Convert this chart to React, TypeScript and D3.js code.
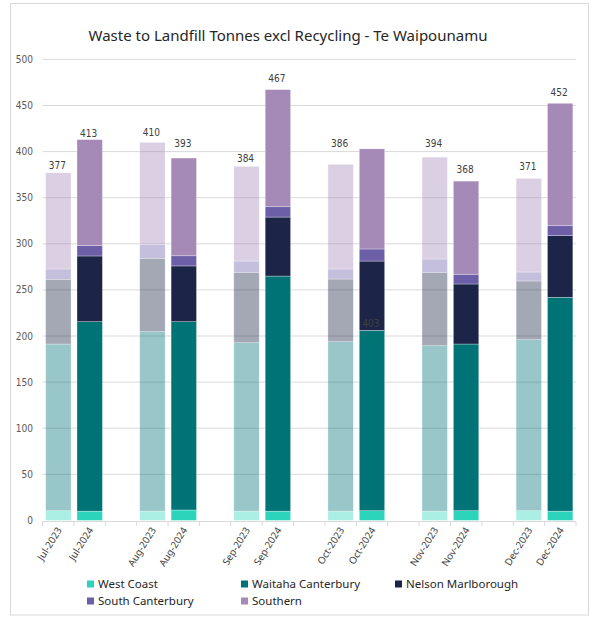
import React from "react";
import * as d3 from "d3";

// ---- data ----
const months = ["Jul", "Aug", "Sep", "Oct", "Nov", "Dec"];
const years = ["2023", "2024"];
const seriesNames = ["West Coast", "Waitaha Canterbury", "Nelson Marlborough", "South Canterbury", "Southern"];
const seriesColors = ["#2dd4bc", "#007377", "#1c2547", "#6c5fa8", "#a58ab8"];

const westCoast2023 = [10.5, 10, 10, 10, 10, 10.5];
const westCoast2024 = [10, 11.3, 10, 10.5, 10.5, 10];
const waitaha2023 = [180.8, 194.7, 182.7, 183.8, 179.5, 185.5];
const waitaha2024 = [205.5, 204.2, 255, 195.7, 180.8, 232];
const nelson2023 = [70.2, 79.6, 76, 68, 79.5, 63.7];
const nelson2024 = [71.3, 60.5, 64, 75.1, 65.1, 66.8];
const southCant2023 = [11.2, 14.7, 12.6, 10.9, 14.5, 9.7];
const southCant2024 = [11.2, 11, 11.2, 13.1, 10.6, 10.8];
const southern2023 = [104.3, 111, 102.7, 113.5, 110.5, 101.6];
const southern2024 = [115, 106, 127, 108.6, 101, 132.8];

const totals2023 = [377, 410, 384, 386, 394, 371];
const totals2024 = [413, 393, 467, 403, 368, 452];
// value (in tonnes-axis units) at which each total label sits
const labelAt2023 = [385.4, 421, 393, 409, 409, 384];
const labelAt2024 = [420, 409, 479, 214, 381, 464];

const yTicks = [0, 50, 100, 150, 200, 250, 300, 350, 400, 450, 500];

export default function App() {
  const W = 590, H = 621;
  const x0 = 42.5, x1 = 576;
  const yBottom = 520.4, yTop = 59.4;

  // build category domain with gaps between month groups
  const domain: string[] = [];
  months.forEach((m, i) => {
    years.forEach((yr) => domain.push(`${m}-${yr}`));
    if (i < months.length - 1) domain.push(`gap-${i}`);
  });

  const x = d3.scaleBand<string>().domain(domain).range([x0, x1]).paddingInner(0.19).paddingOuter(0.1);
  const xStep = d3.scaleBand<string>().domain(domain).range([x0, x1]);
  const y = d3.scaleLinear().domain([0, 500]).range([yBottom, yTop]);

  const by2023 = [westCoast2023, waitaha2023, nelson2023, southCant2023, southern2023];
  const by2024 = [westCoast2024, waitaha2024, nelson2024, southCant2024, southern2024];

  type Row = { key: string; year: string; vals: number[]; total: number; labelAt: number };
  const rows: Row[] = [];
  months.forEach((m, i) => {
    rows.push({ key: `${m}-2023`, year: "2023", vals: by2023.map((s) => s[i]), total: totals2023[i], labelAt: labelAt2023[i] });
    rows.push({ key: `${m}-2024`, year: "2024", vals: by2024.map((s) => s[i]), total: totals2024[i], labelAt: labelAt2024[i] });
  });

  const stack = d3.stack<Row>().keys(seriesNames.map((_, i) => String(i))).value((d, k) => d.vals[+k]);
  const stacked = stack(rows);

  const numFont = "'Liberation Sans Narrow', 'DejaVu Sans Condensed', 'Liberation Sans', sans-serif";
  const uiFont = "'Noto Sans', 'Open Sans', sans-serif";

  const legendPos = [
    { x: 87, y: 584 },
    { x: 241, y: 584 },
    { x: 395, y: 584 },
    { x: 87, y: 601 },
    { x: 241, y: 601 },
  ];

  const boundaries = domain.map((d) => xStep(d)!).concat([x1]);

  return (
    <svg width={W} height={H} style={{ position: "absolute", left: 0, top: 0 }}>
      <rect x={10.5} y={3.5} width={578} height={611.5} fill="#ffffff" stroke="#d9d9d9" strokeWidth={1} />
      <text x={288} y={41} textAnchor="middle" fontFamily={uiFont} fontSize={15} fill="#262626">
        Waste to Landfill Tonnes excl Recycling - Te Waipounamu
      </text>

      {/* gridlines & y labels */}
      {yTicks.map((t) => (
        <g key={t}>
          {t > 0 && <line x1={x0} x2={x1} y1={y(t)} y2={y(t)} stroke="#d9d9d9" strokeWidth={1} />}
          <text x={33} y={y(t)} dy="0.35em" textAnchor="end" fontFamily={numFont} fontSize={10} fill="#595959">
            {t}
          </text>
        </g>
      ))}

      {/* bars */}
      {stacked.map((layer, si) => (
        <g key={si} fill={seriesColors[si]}>
          {layer.map((d, j) => (
            <rect
              key={j}
              x={x(d.data.key)}
              width={x.bandwidth()}
              y={y(d[1])}
              height={y(d[0]) - y(d[1])}
              fillOpacity={d.data.year === "2023" ? 0.4 : 1}
              stroke="#ffffff"
              strokeOpacity={0.5}
              strokeWidth={0.6}
            />
          ))}
        </g>
      ))}

      {/* x axis */}
      <line x1={x0} x2={x1} y1={521.5} y2={521.5} stroke="#d9d9d9" strokeWidth={1} />
      {boundaries.map((bx, i) => (
        <line key={i} x1={bx} x2={bx} y1={521.5} y2={526} stroke="#d9d9d9" strokeWidth={1} />
      ))}
      {rows.map((r) => {
        const cx = x(r.key)! + x.bandwidth() / 2 + 4;
        return (
          <text
            key={r.key}
            transform={`translate(${cx},${530}) rotate(-58)`}
            textAnchor="end"
            fontFamily={uiFont}
            fontSize={9.8}
            fill="#404040"
          >
            {r.key}
          </text>
        );
      })}

      {/* total labels */}
      {rows.map((r) => (
        <text
          key={r.key}
          x={x(r.key)! + x.bandwidth() / 2 - 1}
          y={y(r.labelAt)}
          dy="0.35em"
          textAnchor="middle"
          fontFamily={numFont}
          fontSize={10}
          fill="#404040"
        >
          {r.total}
        </text>
      ))}

      {/* legend */}
      {seriesNames.map((n, i) => (
        <g key={n} transform={`translate(${legendPos[i].x},${legendPos[i].y})`}>
          <rect x={0} y={-3.5} width={7} height={7} fill={seriesColors[i]} />
          <text x={11} y={0} dy="0.35em" fontFamily={uiFont} fontSize={11.5} fill="#262626">
            {n}
          </text>
        </g>
      ))}
    </svg>
  );
}
